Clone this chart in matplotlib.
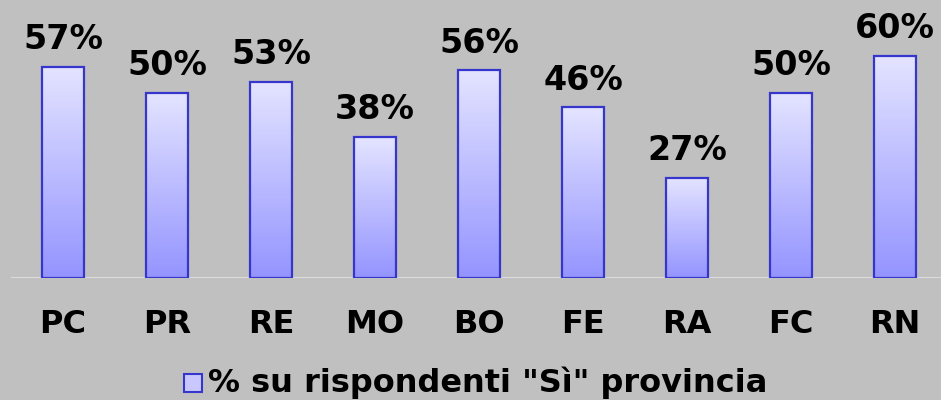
import matplotlib
matplotlib.use("Agg")
import matplotlib.pyplot as plt
import numpy as np
from matplotlib.colors import LinearSegmentedColormap
from matplotlib.patches import Rectangle
import matplotlib.transforms as mtransforms

categories = ["PC", "PR", "RE", "MO", "BO", "FE", "RA", "FC", "RN"]
values = [57, 50, 53, 38, 56, 46, 27, 50, 60]
labels = ["57%", "50%", "53%", "38%", "56%", "46%", "27%", "50%", "60%"]
legend_label = '% su rispondenti "Sì" provincia'

bg = "#C0C0C0"
fig = plt.figure(figsize=(9.41, 4.0), dpi=100, facecolor=bg)
ax = fig.add_axes([11/941, 122/400, 936/941, 278/400])
ax.set_facecolor(bg)
ax.set_xlim(-0.5, 8.5)
ax.set_ylim(0, 75)

cmap = LinearSegmentedColormap.from_list("g", ["#9494FF", "#E4E4FF"])
grad = np.linspace(0, 1, 256).reshape(-1, 1)
x = np.arange(len(categories))
bars = ax.bar(x, values, width=0.4, facecolor="none", edgecolor="#3636CC",
              linewidth=1.6, zorder=3)
for i, b in enumerate(bars):
    x0, w, h = b.get_x(), b.get_width(), b.get_height()
    ax.add_patch(Rectangle((x0 + 0.012, -0.3), w, h, facecolor="#ABABAB",
                           edgecolor="none", zorder=1.5))
    im = ax.imshow(grad, cmap=cmap, aspect="auto", origin="lower",
                   extent=(x0, x0 + w, 0, h), zorder=2)
    im.set_clip_path(b)
    ax.text(x0 + w / 2, h + 4.8, labels[i],
            ha="center", va="baseline", fontsize=24, fontweight="bold",
            color="black", zorder=4)

ax.axhline(0, color="#E0E0E0", linewidth=2, zorder=2.5)
for s in ax.spines.values():
    s.set_visible(False)
ax.set_yticks([])
ax.set_xticks(x)
ax.set_xticklabels([])
ax.tick_params(axis="x", length=0)
trans = mtransforms.blended_transform_factory(ax.transData, ax.transAxes)
for xi, c in zip(x, categories):
    ax.text(xi, -55/278, c, transform=trans, ha="center", va="baseline",
            fontsize=23, fontweight="bold", color="black", clip_on=False)

# legend
fig.patches.append(Rectangle((184/941, (400-392)/400), 18/941, 18/400,
                             transform=fig.transFigure, facecolor="#C8C8FF",
                             edgecolor="#3636CC", linewidth=1.5))
fig.text(208/941, (400-392)/400, legend_label, fontsize=23, fontweight="bold",
         va="baseline", ha="left")

fig.savefig("out.png", dpi=100, facecolor=bg)
